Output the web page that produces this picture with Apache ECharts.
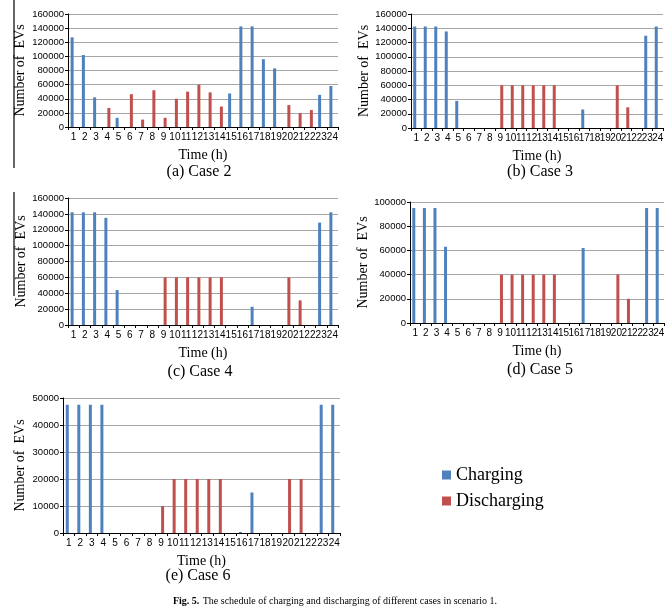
<!DOCTYPE html>
<html><head><meta charset="utf-8">
<script src="https://cdn.jsdelivr.net/npm/echarts@6/dist/echarts.min.js"></script>
<style>html,body{margin:0;padding:0;background:#fff}#c{width:670px;height:614px}</style>
</head><body><div id="c"></div>
<script>
const hours = ['1','2','3','4','5','6','7','8','9','10','11','12','13','14','15','16','17','18','19','20','21','22','23','24'];
// Case 2
const case2Charging    = [127000,102000,42000,0,13000,0,0,0,0,0,0,0,0,0,47500,142500,142500,96000,83000,0,0,0,45500,58000];
const case2Discharging = [0,0,0,27000,0,46500,10500,52000,13000,40000,50000,60000,49000,29000,0,0,0,0,0,31000,19500,24000,0,0];
// Case 3
const case3Charging    = [142500,142500,142500,135500,38000,0,0,0,0,0,0,0,0,0,0,0,26000,0,0,0,0,0,129500,142500];
const case3Discharging = [0,0,0,0,0,0,0,0,60000,60000,60000,60000,60000,60000,0,0,0,0,0,60000,29000,0,0,0];
// Case 4
const case4Charging    = [142000,142000,142000,135000,44000,0,0,0,0,0,0,0,0,0,0,0,23000,0,0,0,0,0,129000,142000];
const case4Discharging = [0,0,0,0,0,0,0,0,60000,60000,60000,60000,60000,60000,0,0,0,0,0,60000,31000,0,0,0];
// Case 5
const case5Charging    = [95000,95000,95000,63000,0,0,0,0,0,0,0,0,0,0,0,0,62000,0,0,0,0,0,95000,95000];
const case5Discharging = [0,0,0,0,0,0,0,0,40000,40000,40000,40000,40000,40000,0,0,0,0,0,40000,20000,0,0,0];
// Case 6
const case6Charging    = [47500,47500,47500,47500,0,0,0,0,0,0,0,0,0,0,0,400,15000,0,0,0,0,0,47500,47500];
const case6Discharging = [0,0,0,0,0,0,0,0,10000,20000,20000,20000,20000,20000,0,0,0,0,0,20000,20000,0,0,0];
const yMax = [160000,160000,160000,100000,50000];
const yStep = [20000,20000,20000,20000,10000];
const captions = ['(a) Case 2','(b) Case 3','(c) Case 4','(d) Case 5','(e) Case 6'];

const chargingSets = [case2Charging,case3Charging,case4Charging,case5Charging,case6Charging];
const dischargingSets = [case2Discharging,case3Discharging,case4Discharging,case5Discharging,case6Discharging];

const grids = [
  {left:68, top:14, width:270, height:113},
  {left:411, top:14, width:252, height:114},
  {left:68, top:198, width:270, height:127},
  {left:410, top:202, width:254, height:121},
  {left:63, top:398, width:277, height:135}
];
const nameGaps = [41,36,39,37,36];
const capPos = [[199,172],[540,172],[200,372],[540,370],[198,576]];
const serif = 'Liberation Serif';
const BLUE = '#4F81BD', RED = '#C0504D';

const xAxes = [], yAxes = [], series = [], graphics = [];
grids.forEach((g,i)=>{
  xAxes.push({type:'category', gridIndex:i, data:hours, name:'Time (h)', nameLocation:'middle', nameGap:21,
    nameTextStyle:{fontFamily:serif, fontSize:14, color:'#000'},
    axisLine:{lineStyle:{color:'#000', width:1}},
    axisTick:{show:true, inside:false, length:3, alignWithLabel:false, interval:0, lineStyle:{color:'#000'}},
    axisLabel:{interval:0, fontFamily:'Liberation Sans', fontSize:10, color:'#000', margin:5}});
  yAxes.push({type:'value', gridIndex:i, min:0, max:yMax[i], interval:yStep[i], name:'Number of  EVs', nameLocation:'middle', nameGap:nameGaps[i],
    nameTextStyle:{fontFamily:serif, fontSize:14, color:'#000'},
    axisLine:{show:true, lineStyle:{color:'#000'}},
    axisTick:{show:true, length:3, lineStyle:{color:'#000'}},
    splitLine:{lineStyle:{color:'#a6a6a6', width:1}},
    axisLabel:{fontFamily:'Liberation Sans', fontSize:9.5, color:'#000', margin:4, formatter: v => String(v)}});
  series.push({name:'Charging', type:'bar', xAxisIndex:i, yAxisIndex:i, data:chargingSets[i], barWidth:3, barGap:'0%', itemStyle:{color:BLUE}});
  series.push({name:'Discharging', type:'bar', xAxisIndex:i, yAxisIndex:i, data:dischargingSets[i], barWidth:3, barGap:'0%', itemStyle:{color:RED}});
  graphics.push({type:'text', x:capPos[i][0], y:capPos[i][1], style:{text:captions[i], fontFamily:serif, fontSize:16, fill:'#000', textAlign:'center', textVerticalAlign:'middle'}});
});
graphics.push({type:'line', shape:{x1:14,y1:0,x2:14,y2:168}, style:{stroke:'#000', lineWidth:1.2}});
graphics.push({type:'line', shape:{x1:14,y1:192,x2:14,y2:296}, style:{stroke:'#000', lineWidth:1.2}});
graphics.push({type:'text', x:335, y:601, style:{
  rich:{b:{fontFamily:serif, fontWeight:'bold', fontSize:10, fill:'#000'}, n:{fontFamily:serif, fontSize:10, fill:'#000'}},
  text:'{b|Fig. 5.} {n|The schedule of charging and discharging of different cases in scenario 1.}', textAlign:'center', textVerticalAlign:'middle'}});

const chart = echarts.init(document.getElementById('c'));
chart.setOption({
  animation:false,
  grid:grids,
  xAxis:xAxes, yAxis:yAxes, series:series,
  legend:{orient:'vertical', left:437, top:461, itemWidth:9, itemHeight:9, itemGap:8, icon:'rect',
    textStyle:{fontFamily:serif, fontSize:18, color:'#000'}, data:['Charging','Discharging']},
  graphic:graphics
});
</script></body></html>
